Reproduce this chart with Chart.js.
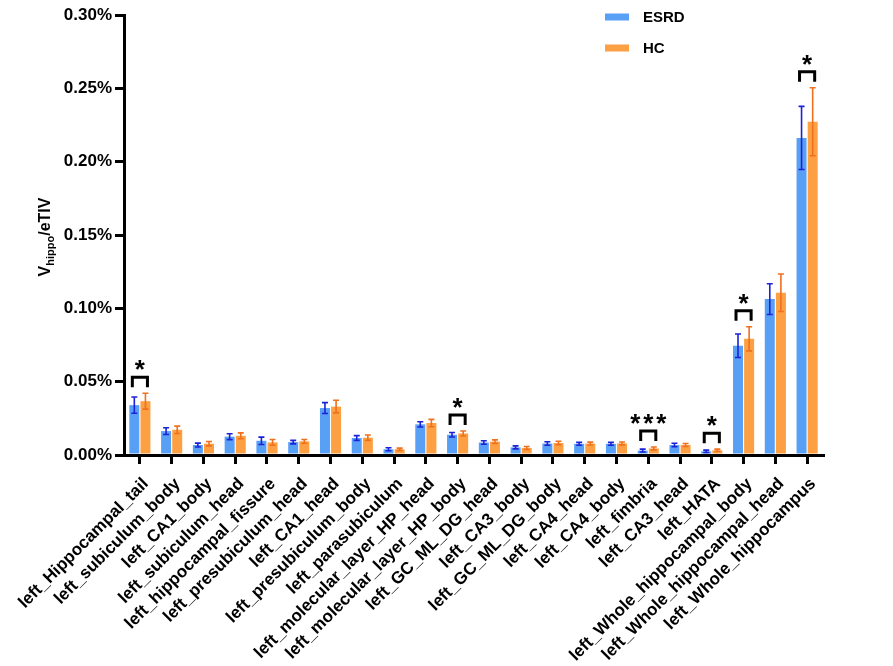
<!DOCTYPE html>
<html>
<head>
<meta charset="utf-8">
<script src="https://cdn.jsdelivr.net/npm/chart.js@4.4.1/dist/chart.umd.min.js"></script>
<style>
  html, body { margin: 0; padding: 0; background: #fff; }
  #wrap { width: 893px; height: 666px; position: relative; }
</style>
</head>
<body>
<div id="wrap"><canvas id="hippoChart"></canvas></div>
<script>
const regions = [
    'left_Hippocampal_tail', 'left_subiculum_body', 'left_CA1_body', 'left_subiculum_head',
    'left_hippocampal_fissure', 'left_presubiculum_head', 'left_CA1_head', 'left_presubiculum_body',
    'left_parasubiculum', 'left_molecular_layer_HP_head', 'left_molecular_layer_HP_body',
    'left_GC_ML_DG_head', 'left_CA3_body', 'left_GC_ML_DG_body', 'left_CA4_head', 'left_CA4_body',
    'left_fimbria', 'left_CA3_head', 'left_HATA', 'left_Whole_hippocampal_body',
    'left_Whole_hippocampal_head', 'left_Whole_hippocampus'
];
// values in % of eTIV
const esrdMean = [0.034, 0.0163, 0.0068, 0.0125, 0.0097, 0.0088, 0.032, 0.0116, 0.0039, 0.0209, 0.0138,
                  0.0085, 0.0052, 0.0078, 0.0076, 0.0076, 0.003, 0.0068, 0.0025, 0.0745, 0.1063, 0.2162];
const esrdSem  = [0.0055, 0.0023, 0.0013, 0.002, 0.0025, 0.0012, 0.0037, 0.0016, 0.001, 0.0018, 0.0015,
                  0.0012, 0.001, 0.0012, 0.001, 0.001, 0.001, 0.0012, 0.0008, 0.008, 0.0105, 0.0215];
const hcMean   = [0.0367, 0.0172, 0.0077, 0.0131, 0.0086, 0.0093, 0.033, 0.0118, 0.0039, 0.0218, 0.0147,
                  0.0091, 0.0048, 0.0082, 0.0078, 0.0079, 0.0045, 0.0068, 0.0032, 0.0792, 0.1106, 0.2272];
const hcSem    = [0.0054, 0.0025, 0.0015, 0.002, 0.002, 0.0013, 0.0043, 0.0018, 0.0008, 0.0025, 0.0017,
                  0.0012, 0.001, 0.0012, 0.001, 0.001, 0.001, 0.001, 0.0008, 0.0082, 0.0128, 0.0232];
const sigMarks = ['*', '', '', '', '', '', '', '', '', '', '*',
                  '', '', '', '', '', '***', '', '*', '*', '', '*'];
const yTicks = [0, 0.05, 0.10, 0.15, 0.20, 0.25, 0.30];

const FONT = 'Liberation Sans, Arial, sans-serif';
Chart.defaults.font.family = FONT;
Chart.defaults.font.weight = 'bold';
Chart.defaults.color = '#000';

// error bars (SEM) drawn on top of each bar
const errorBars = {
    id: 'errorBars',
    afterDatasetsDraw(chart) {
        const c = chart.ctx;
        const y = chart.scales.y;
        const sems = [esrdSem, hcSem];
        const cols = ['#1c22d8', '#f0701e'];
        chart.data.datasets.forEach((ds, di) => {
            const meta = chart.getDatasetMeta(di);
            meta.data.forEach((bar, i) => {
                const v = ds.data[i];
                const top = y.getPixelForValue(v + sems[di][i]);
                const bot = y.getPixelForValue(v - sems[di][i]);
                c.save();
                c.strokeStyle = cols[di];
                c.lineWidth = 1.6;
                c.beginPath();
                c.moveTo(bar.x, top); c.lineTo(bar.x, bot);
                c.moveTo(bar.x - 3, top); c.lineTo(bar.x + 3, top);
                c.moveTo(bar.x - 3, bot); c.lineTo(bar.x + 3, bot);
                c.stroke();
                c.restore();
            });
        });
    }
};

// significance brackets + stars
const sigBrackets = {
    id: 'sigBrackets',
    afterDatasetsDraw(chart) {
        const c = chart.ctx;
        const y = chart.scales.y;
        const b0 = chart.getDatasetMeta(0).data;
        const b1 = chart.getDatasetMeta(1).data;
        sigMarks.forEach((m, i) => {
            if (!m) return;
            const errTop = Math.min(y.getPixelForValue(esrdMean[i] + esrdSem[i]),
                                    y.getPixelForValue(hcMean[i] + hcSem[i]));
            const legBot = errTop - 6;
            const top = legBot - 10;
            c.save();
            c.strokeStyle = '#000';
            c.lineWidth = 3;
            c.beginPath();
            c.moveTo(b0[i].x - 2, legBot); c.lineTo(b0[i].x - 2, top);
            c.lineTo(b1[i].x + 2, top); c.lineTo(b1[i].x + 2, legBot);
            c.stroke();
            c.fillStyle = '#000';
            c.font = 'bold 26px ' + FONT;
            c.textAlign = 'center';
            c.textBaseline = 'alphabetic';
            const cx = (b0[i].x + b1[i].x) / 2;
            for (let k = 0; k < m.length; k++) {
                c.fillText('*', cx + (k - (m.length - 1) / 2) * 13, top + 1);
            }
            c.restore();
        });
    }
};

// y-axis title with subscript, and legend
const extras = {
    id: 'extras',
    afterDraw(chart) {
        const c = chart.ctx;
        c.save();
        c.fillStyle = '#000';
        c.translate(46, 237);
        c.rotate(-Math.PI / 2);
        c.textBaseline = 'middle';
        const big = 'bold 16px ' + FONT, small = 'bold 11px ' + FONT;
        c.font = big; const w1 = c.measureText('V').width, w3 = c.measureText('/eTIV').width;
        c.font = small; const w2 = c.measureText('hippo').width;
        let x = -(w1 + w2 + w3) / 2;
        c.font = big; c.textAlign = 'left';
        c.fillText('V', x, 0); x += w1;
        c.font = small; c.fillText('hippo', x, 5); x += w2;
        c.font = big; c.fillText('/eTIV', x, 0);
        c.restore();

        c.save();
        const items = chart.data.datasets;
        items.forEach((ds, i) => {
            const yy = 17 + i * 31;
            c.fillStyle = ds.backgroundColor;
            c.fillRect(605, yy - 3.5, 24, 7);
            c.fillStyle = '#000';
            c.font = 'bold 15px ' + FONT;
            c.textBaseline = 'middle';
            c.textAlign = 'left';
            c.fillText(ds.label, 643, yy + 1);
        });
        c.restore();
    }
};

const ctx = document.getElementById('hippoChart').getContext('2d');
const hippoChart = new Chart(ctx, {
    type: 'bar',
    data: {
        labels: regions,
        datasets: [
            { label: 'ESRD', data: esrdMean, backgroundColor: '#58a0f6' },
            { label: 'HC', data: hcMean, backgroundColor: '#fda043' }
        ]
    },
    options: {
        responsive: true,
        maintainAspectRatio: false,
        animation: false,
        layout: { padding: { top: 15, right: 70, left: 0, bottom: 0 } },
        plugins: { legend: { display: false }, tooltip: { enabled: false } },
        datasets: { bar: { categoryPercentage: 0.7, barPercentage: 0.9 } },
        scales: {
            x: {
                grid: { display: true, drawOnChartArea: false, drawTicks: true, offset: false,
                        tickLength: 9, lineWidth: 3, color: '#000' },
                border: { display: true, color: '#000', width: 3 },
                ticks: { minRotation: 45, maxRotation: 45, autoSkip: false, padding: 10, labelOffset: 6,
                         font: { size: 17, weight: 'bold' }, color: '#000' },
                afterFit(s) { s.height = 211; }
            },
            y: {
                min: 0, max: 0.30,
                afterBuildTicks(s) { s.ticks = yTicks.map(v => ({ value: v })); },
                grid: { display: true, drawOnChartArea: false, drawTicks: true,
                        tickLength: 9, lineWidth: 3, color: '#000' },
                border: { display: true, color: '#000', width: 3 },
                ticks: { padding: 3, font: { size: 17, weight: 'bold' }, color: '#000',
                         callback: v => v.toFixed(2) + '%' },
                afterFit(s) { s.width = 124; }
            }
        }
    },
    plugins: [errorBars, sigBrackets, extras]
});
</script>
</body>
</html>
